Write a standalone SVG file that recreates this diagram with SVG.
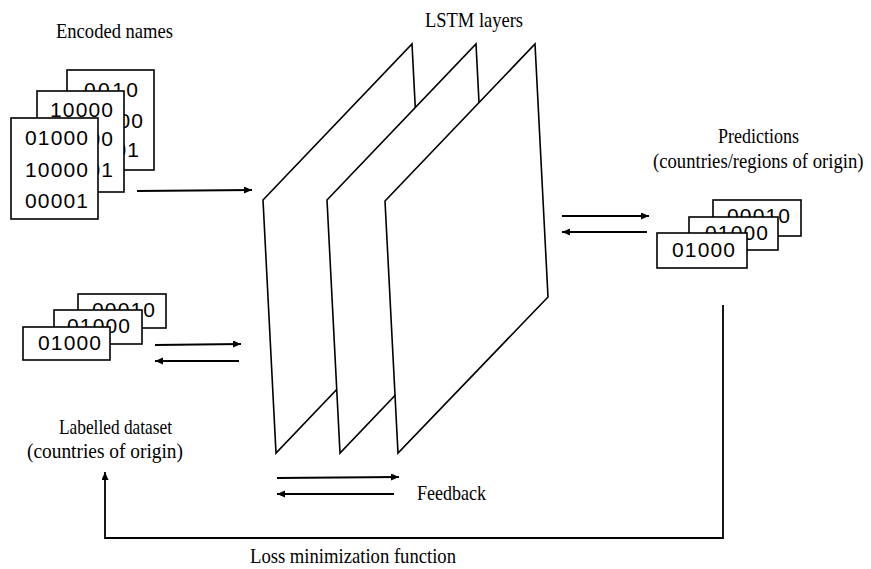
<svg xmlns="http://www.w3.org/2000/svg" width="871" height="569" viewBox="0 0 871 569">
<style>
.box{fill:#fff;stroke:#000;stroke-width:1.6}
.plane{fill:#fff;stroke:#000;stroke-width:1.6;stroke-linejoin:miter}
.dig{font-family:"Liberation Sans",Arial,sans-serif;font-size:21px;fill:#000}
.lbl{font-family:"Liberation Serif","Times New Roman",serif;font-size:21px;fill:#000}
.ar{fill:none;stroke:#000;stroke-width:1.8}
</style>
<defs>
<marker id="ah" markerUnits="userSpaceOnUse" markerWidth="9" markerHeight="8" refX="8" refY="3.5" orient="auto">
<path d="M0,0 L8,3.5 L0,7 z" fill="#000"/>
</marker>
</defs>
<rect width="871" height="569" fill="#fff"/>

<g id="encoded-names">
<text class="lbl" x="56" y="38" textLength="117" lengthAdjust="spacingAndGlyphs">Encoded names</text>
<rect class="box" x="67" y="70" width="87" height="100"/>
<text class="dig" x="84" y="97" textLength="54">0010</text>
<text class="dig" x="80" y="128" textLength="63">00100</text>
<text class="dig" x="76" y="157" textLength="63">00001</text>
<rect class="box" x="37" y="91" width="87" height="101"/>
<text class="dig" x="50" y="117" textLength="63">10000</text>
<text class="dig" x="50" y="146" textLength="63">00100</text>
<text class="dig" x="50" y="177" textLength="63">00001</text>
<rect class="box" x="11" y="118" width="87" height="101"/>
<text class="dig" x="25" y="145" textLength="63">01000</text>
<text class="dig" x="25" y="177" textLength="63">10000</text>
<text class="dig" x="25" y="208" textLength="63">00001</text>
</g>

<g id="labelled-dataset">
<rect class="box" x="78" y="294" width="88" height="34"/>
<text class="dig" x="92" y="317" textLength="63">00010</text>
<rect class="box" x="54" y="310" width="88" height="34"/>
<text class="dig" x="67" y="333" textLength="63">01000</text>
<rect class="box" x="23" y="327" width="87" height="33"/>
<text class="dig" x="38" y="350" textLength="63">01000</text>
<text class="lbl" x="59" y="434" textLength="113" lengthAdjust="spacingAndGlyphs">Labelled dataset</text>
<text class="lbl" x="27" y="458" textLength="156" lengthAdjust="spacingAndGlyphs">(countries of origin)</text>
</g>

<g id="lstm-layers">
<text class="lbl" x="425" y="27" textLength="98" lengthAdjust="spacingAndGlyphs">LSTM layers</text>
<polygon class="plane" points="263,200 412,44 425,297 276,453"/>
<polygon class="plane" points="327,200 476,44 489,297 340,453"/>
<polygon class="plane" points="385,201 535,44 548,297 398,453"/>
</g>

<g id="predictions">
<text class="lbl" x="718" y="143" textLength="81" lengthAdjust="spacingAndGlyphs">Predictions</text>
<text class="lbl" transform="translate(653,168) scale(0.89,1)" x="0" y="0">(countries/regions of origin)</text>
<rect class="box" x="713" y="200" width="88" height="36"/>
<text class="dig" x="727" y="223" textLength="63">00010</text>
<rect class="box" x="689" y="217" width="89" height="33"/>
<text class="dig" x="705" y="240" textLength="63">01000</text>
<rect class="box" x="657" y="233" width="90" height="35"/>
<text class="dig" x="672" y="257" textLength="63">01000</text>
</g>

<g id="feedback-label">
<text class="lbl" x="417" y="500" textLength="69" lengthAdjust="spacingAndGlyphs">Feedback</text>
</g>
<g id="loss-label">
<text class="lbl" x="250" y="563" textLength="206" lengthAdjust="spacingAndGlyphs">Loss minimization function</text>
</g>

<g id="connectors">
<line class="ar" x1="137" y1="191" x2="252" y2="190" marker-end="url(#ah)"/>
<line class="ar" x1="155" y1="345" x2="241" y2="344" marker-end="url(#ah)"/>
<line class="ar" x1="239" y1="361" x2="155" y2="361" marker-end="url(#ah)"/>
<line class="ar" x1="562" y1="216" x2="649" y2="216" marker-end="url(#ah)"/>
<line class="ar" x1="647" y1="232" x2="562" y2="232" marker-end="url(#ah)"/>
<line class="ar" x1="277" y1="478" x2="399" y2="477" marker-end="url(#ah)"/>
<line class="ar" x1="394" y1="494" x2="277" y2="494" marker-end="url(#ah)"/>
<polyline class="ar" points="723,305 723,538 105,538 105,472" marker-end="url(#ah)"/>
</g>
</svg>
